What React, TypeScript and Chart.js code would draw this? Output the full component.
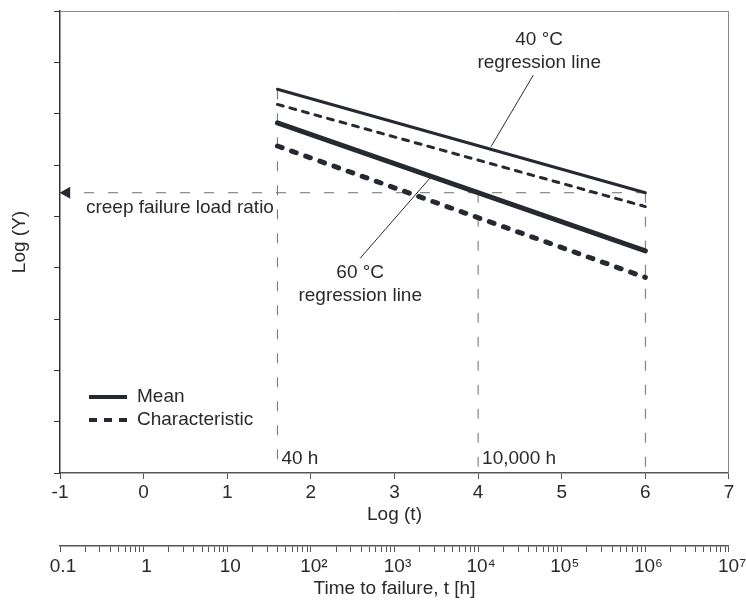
import React, { useEffect, useRef } from 'react';
import { Chart, registerables } from 'chart.js';

Chart.register(...registerables);

// ---- axes ----
const LOG_T_MIN = -1;
const LOG_T_MAX = 7;
const LOG_Y_MIN = 0;
const LOG_Y_MAX = 9;
const TIME_DECADES = [0.1, 1, 10, 100, 1e3, 1e4, 1e5, 1e6, 1e7];
const TIME_DECADE_LABELS = ['0.1', '1', '10', '10²', '10³', '10⁴', '10⁵', '10⁶', '10⁷'];
const TIME_MINOR_MULTIPLIERS = [2, 3, 4, 5, 6, 7, 8, 9];

// ---- regression lines (log t at both ends, log Y values) ----
const LINE_LOG_T = [1.6, 6];
const MEAN_40C = [7.475, 5.46];
const CHAR_40C = [7.18, 5.19];
const MEAN_60C = [6.82, 4.325];
const CHAR_60C = [6.37, 3.81];

// ---- reference lines ----
const CREEP_RATIO = 5.46;
const CREEP_LINE_LOG_T = [-1, 6];
const MARKER_LOG_T = [1.6, 4, 6];
const MARKER_TOP = [7.475, 5.46, 5.46];
const MARKER_LABELS = ['40 h', '10,000 h', ''];

// ---- leader lines for the labels ----
const LEADER_40_T = [4.66, 4.154];
const LEADER_40_Y = [7.75, 6.357];
const LEADER_60_T = [3.425, 2.589];
const LEADER_60_Y = [5.747, 4.183];

const LABEL_40 = ['40 °C', 'regression line'];
const LABEL_60 = ['60 °C', 'regression line'];
const LABEL_CREEP = 'creep failure load ratio';
const LEGEND_LABELS = ['Mean', 'Characteristic'];

const FONT = "'Liberation Sans', Arial, Helvetica, sans-serif";
const FONT_SIZE = 19;
const INK = '#262a30';
const TEXT = '#2a2a2a';
const GUIDE = '#6e6e6e';

const pts = (xs: number[], ys: number[]) => xs.map((x, i) => ({ x, y: ys[i] }));

const annotations = {
  id: 'annotations',
  afterDatasetsDraw(chart: any) {
    const { ctx, chartArea } = chart;
    const xs = chart.scales.x;
    const ys = chart.scales.y;
    const X = (v: number) => xs.getPixelForValue(v);
    const Y = (v: number) => ys.getPixelForValue(v);
    ctx.save();
    ctx.font = `${FONT_SIZE}px ${FONT}`;
    ctx.fillStyle = TEXT;
    ctx.textBaseline = 'middle';

    // regression line labels
    ctx.textAlign = 'center';
    LABEL_40.forEach((t, i) => ctx.fillText(t, X(4.73), Y(8.44) + i * 23));
    LABEL_60.forEach((t, i) => ctx.fillText(t, X(2.59), Y(3.9) + i * 23));

    // creep failure load ratio (cut at the 40 h marker)
    ctx.save();
    ctx.beginPath();
    ctx.rect(chartArea.left, chartArea.top, X(MARKER_LOG_T[0]) - chartArea.left, chartArea.height);
    ctx.clip();
    ctx.textAlign = 'left';
    ctx.fillText(LABEL_CREEP, X(-0.69), Y(5.16));
    ctx.restore();

    // marker labels
    ctx.textAlign = 'left';
    MARKER_LABELS.forEach((t, i) => {
      if (t) ctx.fillText(t, X(MARKER_LOG_T[i]) + 4, Y(0.27));
    });

    // legend
    const lx0 = X(-0.653);
    const lx1 = lx0 + 38;
    LEGEND_LABELS.forEach((t, i) => {
      const yy = Y(1.48) + i * 23;
      ctx.save();
      ctx.strokeStyle = INK;
      ctx.lineWidth = 4;
      ctx.lineCap = 'butt';
      ctx.setLineDash(i === 0 ? [] : [8, 7]);
      ctx.beginPath();
      ctx.moveTo(lx0, yy);
      ctx.lineTo(lx1, yy);
      ctx.stroke();
      ctx.restore();
      ctx.fillText(t, lx1 + 10, yy);
    });
    ctx.restore();
  },
};

export default function App() {
  const ref = useRef<HTMLCanvasElement | null>(null);

  useEffect(() => {
    if (!ref.current) return;
    const guide = (xs: number[], ys: number[]) => ({
      data: pts(xs, ys),
      borderColor: GUIDE,
      borderWidth: 1,
      borderDash: [10, 14],
      pointRadius: 0,
      fill: false,
    });
    const datasets: any[] = [
      { data: pts(LINE_LOG_T, MEAN_40C), borderColor: INK, borderWidth: 3, pointRadius: 0, borderCapStyle: 'round' },
      { data: pts(LINE_LOG_T, CHAR_40C), borderColor: INK, borderWidth: 3, borderDash: [6, 7], borderCapStyle: 'round', pointRadius: 0 },
      { data: pts(LINE_LOG_T, MEAN_60C), borderColor: INK, borderWidth: 5, pointRadius: 0, borderCapStyle: 'round' },
      { data: pts(LINE_LOG_T, CHAR_60C), borderColor: INK, borderWidth: 5, borderDash: [5, 10], borderCapStyle: 'round', pointRadius: 0 },
      { data: pts(LEADER_40_T, LEADER_40_Y), borderColor: INK, borderWidth: 1, pointRadius: 0 },
      { data: pts(LEADER_60_T, LEADER_60_Y), borderColor: INK, borderWidth: 1, pointRadius: 0 },
      {
        data: [{ x: -0.92, y: CREEP_RATIO }],
        showLine: false,
        pointStyle: 'triangle',
        rotation: 270,
        pointRadius: 7,
        pointBackgroundColor: INK,
        pointBorderWidth: 0,
        clip: false,
      },
      guide(CREEP_LINE_LOG_T, [CREEP_RATIO, CREEP_RATIO]),
      ...MARKER_LOG_T.map((t, i) => guide([t, t], [MARKER_TOP[i], LOG_Y_MIN])),
    ];

    // time-to-failure axis ticks (hours), 2..9 minor ticks per decade
    const timeValues: number[] = [];
    TIME_DECADES.forEach((d, i) => {
      timeValues.push(d);
      if (i < TIME_DECADES.length - 1) TIME_MINOR_MULTIPLIERS.forEach((m) => timeValues.push(d * m));
    });
    const timeLabel = (v: number) => {
      const k = TIME_DECADES.findIndex((d) => Math.abs(Math.log10(d) - Math.log10(v)) < 1e-6);
      return k >= 0 ? TIME_DECADE_LABELS[k] : '';
    };

    Chart.defaults.font.family = FONT;
    Chart.defaults.font.size = FONT_SIZE;
    Chart.defaults.color = TEXT;

    const chart = new Chart(ref.current, {
      type: 'line',
      data: { datasets },
      plugins: [annotations],
      options: {
        animation: false,
        responsive: false,
        devicePixelRatio: 1,
        events: [],
        layout: { padding: { top: 11, right: 17, left: 0, bottom: 0 } },
        plugins: { legend: { display: false }, tooltip: { enabled: false } },
        scales: {
          x: {
            type: 'linear',
            position: 'bottom',
            weight: 0,
            min: LOG_T_MIN,
            max: LOG_T_MAX,
            ticks: { stepSize: 1, padding: 2, color: TEXT, maxRotation: 0, autoSkip: false },
            grid: { drawOnChartArea: false, tickLength: 6, color: '#555' },
            border: { color: '#555', width: 1.5 },
            title: { display: true, text: 'Log (t)', color: TEXT, padding: { top: 0, bottom: 20 } },
            afterFit: (s: any) => { s.height = 73; },
          },
          hours: {
            type: 'logarithmic',
            position: 'bottom',
            weight: 1,
            min: TIME_DECADES[0],
            max: TIME_DECADES[TIME_DECADES.length - 1],
            afterBuildTicks: (s: any) => {
              s.ticks = timeValues.map((v) => ({ value: v }));
            },
            ticks: {
              autoSkip: false,
              maxRotation: 0,
              minRotation: 0,
              padding: 3,
              labelOffset: 3,
              color: TEXT,
              major: { enabled: false },
              callback: (v: any) => timeLabel(Number(v)),
            },
            grid: { drawOnChartArea: false, tickLength: 6, color: '#555' },
            border: { color: '#555', width: 1.5 },
            title: { display: true, text: 'Time to failure, t [h]', color: TEXT, padding: { top: 0, bottom: 1 } },
            afterFit: (s: any) => { s.height = 55; },
          },
          y: {
            type: 'linear',
            position: 'left',
            min: LOG_Y_MIN,
            max: LOG_Y_MAX,
            ticks: { stepSize: 1, display: false },
            grid: { drawOnChartArea: false, tickLength: 6, color: '#333' },
            border: { color: '#333', width: 1.5 },
            title: { display: true, text: 'Log (Y)', color: TEXT, padding: { top: 8, bottom: 0 } },
            afterFit: (s: any) => { s.width = 60; },
          },
          topEdge: {
            type: 'linear',
            position: 'top',
            min: LOG_T_MIN,
            max: LOG_T_MAX,
            ticks: { display: false },
            grid: { display: false },
            border: { color: '#8a8a8a', width: 1 },
            afterFit: (s: any) => { s.height = 0; },
          },
          rightEdge: {
            type: 'linear',
            position: 'right',
            min: LOG_Y_MIN,
            max: LOG_Y_MAX,
            ticks: { display: false },
            grid: { display: false },
            border: { color: '#8a8a8a', width: 1 },
            afterFit: (s: any) => { s.width = 0; },
          },
        },
      } as any,
    });
    return () => chart.destroy();
  }, []);

  return (
    <div style={{ position: 'absolute', left: 0, top: 0, width: 746, height: 601, background: '#fff' }}>
      <canvas ref={ref} width={746} height={601} />
    </div>
  );
}
